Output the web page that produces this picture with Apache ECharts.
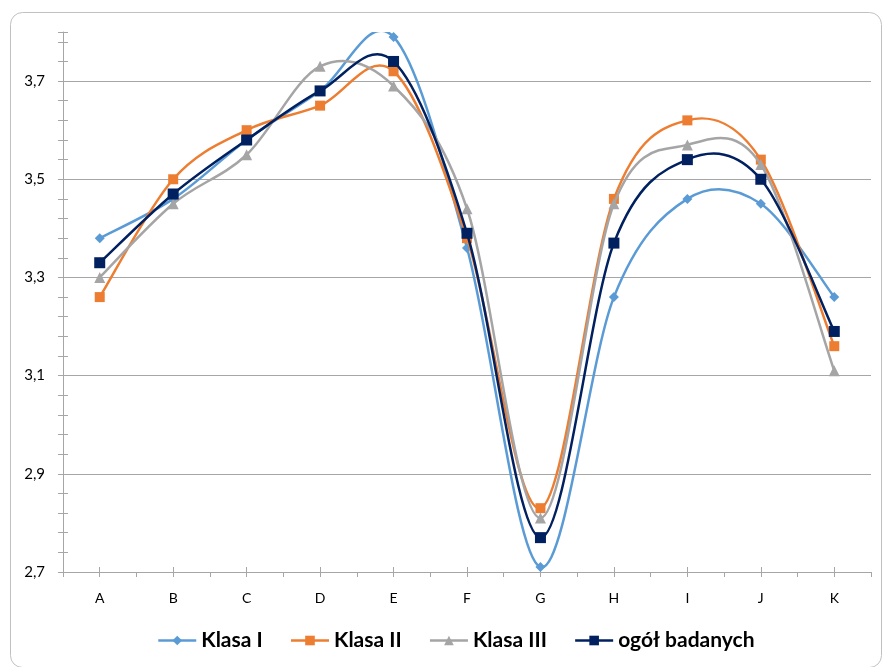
<!DOCTYPE html>
<html>
<head>
<meta charset="utf-8">
<script src="https://cdn.jsdelivr.net/npm/echarts@6/dist/echarts.min.js"></script>
<style>html,body{margin:0;padding:0;background:#fff}#c{width:882px;height:667px}</style>
</head>
<body>
<div id="c"></div>
<script>
var categories = ['A','B','C','D','E','F','G','H','I','J','K'];
var klasaI   = [3.38, 3.46, 3.58, 3.68, 3.79, 3.36, 2.71, 3.26, 3.46, 3.45, 3.26];
var klasaII  = [3.26, 3.50, 3.60, 3.65, 3.72, 3.38, 2.83, 3.46, 3.62, 3.54, 3.16];
var klasaIII = [3.30, 3.45, 3.55, 3.73, 3.69, 3.44, 2.81, 3.45, 3.57, 3.53, 3.11];
var ogol     = [3.33, 3.47, 3.58, 3.68, 3.74, 3.39, 2.77, 3.37, 3.54, 3.50, 3.19];
var seriesNames = ['Klasa I','Klasa II','Klasa III','ogół badanych'];
var yTickLabels = ['2,7','2,9','3,1','3,3','3,5','3,7'];

var colors = ['#5B9BD5','#ED7D31','#A5A5A5','#002060'];
var symbols = ['diamond','rect','triangle','rect'];
var sizes = [10, 10, 11, 11];
var datas = [klasaI, klasaII, klasaIII, ogol];
var FONT = 'Lato';
var AX = '#A6A6A6';

function curveRenderer(vals, color) {
  return function (params, api) {
    var i = params.dataIndex, n = vals.length;
    if (i >= n - 1) return null;
    function P(k) { k = Math.max(0, Math.min(n - 1, k)); return api.coord([k, vals[k]]); }
    var p0 = P(i - 1), p1 = P(i), p2 = P(i + 1), p3 = P(i + 2);
    return {
      type: 'bezierCurve',
      shape: {
        x1: p1[0], y1: p1[1], x2: p2[0], y2: p2[1],
        cpx1: p1[0] + (p2[0] - p0[0]) / 6, cpy1: p1[1] + (p2[1] - p0[1]) / 6,
        cpx2: p2[0] - (p3[0] - p1[0]) / 6, cpy2: p2[1] - (p3[1] - p1[1]) / 6
      },
      style: { stroke: color, lineWidth: 2.5, fill: null },
      silent: true
    };
  };
}

var series = [];
datas.forEach(function (d, i) {
  series.push({
    type: 'custom', name: seriesNames[i] + '_curve', clip: true,
    data: d.map(function (v, k) { return [k, v]; }),
    renderItem: curveRenderer(d, colors[i]),
    z: 2 + 2 * i, silent: true
  });
  series.push({
    name: seriesNames[i], type: 'line', data: d,
    symbol: symbols[i], symbolSize: sizes[i], showSymbol: true,
    lineStyle: { color: colors[i], width: 2.5, opacity: 0 },
    itemStyle: { color: colors[i] },
    z: 3 + 2 * i
  });
});

var chart = echarts.init(document.getElementById('c'), null, { renderer: 'canvas' });
chart.setOption({
  animation: false,
  color: colors,
  graphic: [{ type: 'rect', left: 8, top: 10, shape: { width: 871, height: 655, r: 12 },
    style: { fill: 'none', stroke: '#C0C0C0', lineWidth: 1 }, silent: true, z: -1 }],
  grid: { left: 63, right: 11, top: 32, bottom: 95 },
  legend: {
    bottom: 11, left: 152, itemWidth: 38, itemHeight: 12, itemGap: 27,
    data: seriesNames.map(function (nm, i) {
      return { name: nm, lineStyle: { color: colors[i], width: 2.5, opacity: 1 } };
    }),
    textStyle: { fontFamily: FONT, fontWeight: 'bold', fontSize: 21, color: '#000' }
  },
  xAxis: [{
    type: 'category', data: categories, boundaryGap: true,
    axisLine: { lineStyle: { color: AX, width: 1 } },
    axisTick: { show: true, length: 5, lineStyle: { color: AX } },
    axisLabel: { color: '#000', fontSize: 14, fontFamily: FONT, margin: 19 }
  }, {
    type: 'category', data: categories, boundaryGap: true, position: 'bottom', offset: 0,
    axisLine: { show: false },
    axisTick: { show: true, alignWithLabel: true, length: 5, lineStyle: { color: AX } },
    axisLabel: { show: false }
  }, {
    type: 'category', data: categories, boundaryGap: true, position: 'bottom', offset: 0,
    axisLine: { show: false },
    axisTick: { show: true, alignWithLabel: true, inside: true, length: 5, lineStyle: { color: AX } },
    axisLabel: { show: false }
  }],
  yAxis: [{
    type: 'value', min: 2.7, max: 3.8, interval: 0.2,
    axisLine: { show: true, lineStyle: { color: AX } },
    axisTick: { show: false },
    splitLine: { show: true, showMaxLine: false, lineStyle: { color: AX, width: 1 } },
    axisLabel: { color: '#000', fontSize: 15, fontFamily: FONT, margin: 18, showMaxLabel: false,
      formatter: function (v) {
        var idx = Math.round((v - 2.7) / 0.2);
        if (Math.abs(v - (2.7 + idx * 0.2)) > 1e-6) return '';
        return yTickLabels[idx] || '';
      } }
  }, {
    type: 'value', min: 2.7, max: 3.8, interval: 0.04, position: 'left', offset: 0,
    axisLine: { show: false },
    axisTick: { show: true, length: 5, lineStyle: { color: AX } },
    splitLine: { show: false }, axisLabel: { show: false }
  }, {
    type: 'value', min: 2.7, max: 3.8, interval: 0.04, position: 'left', offset: 0,
    axisLine: { show: false },
    axisTick: { show: true, inside: true, length: 5, lineStyle: { color: AX } },
    splitLine: { show: false }, axisLabel: { show: false }
  }],
  series: series
});
</script>
</body>
</html>
